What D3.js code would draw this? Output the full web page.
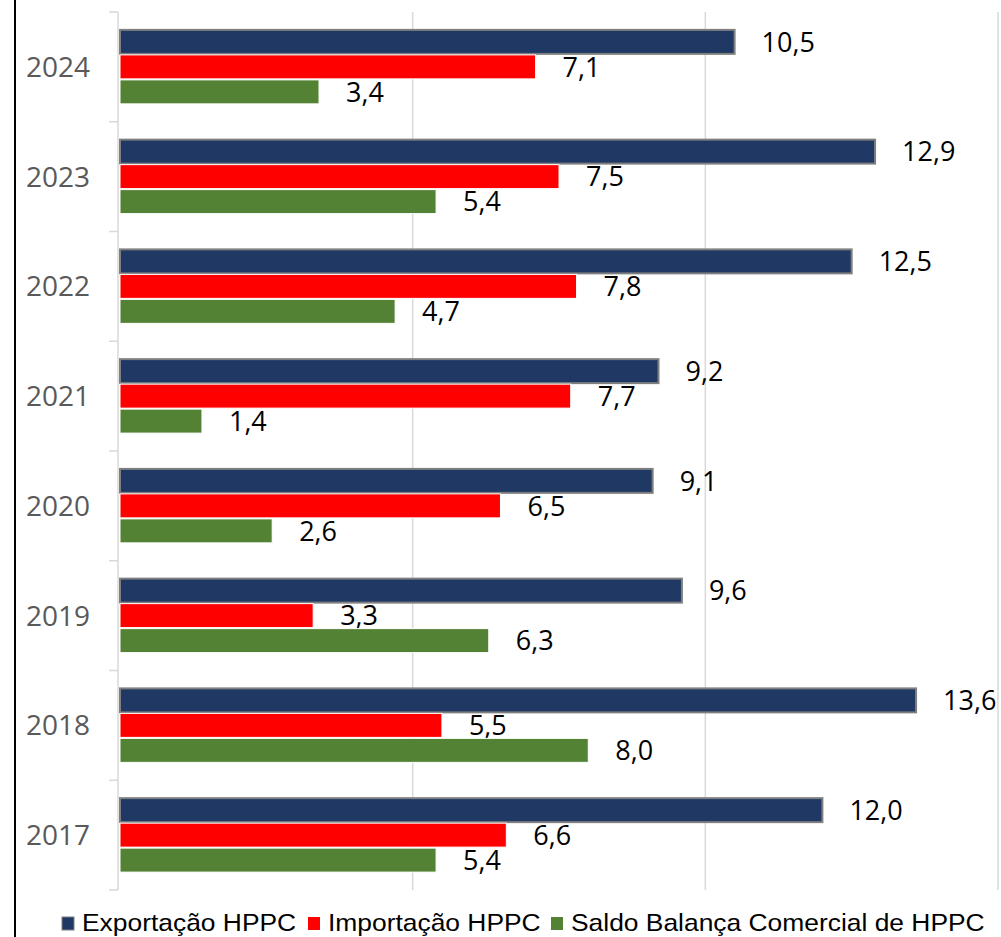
<!DOCTYPE html>
<html lang="pt">
<head>
<meta charset="utf-8">
<title>HPPC</title>
<script src="https://cdn.jsdelivr.net/npm/d3@7"></script>
<style>
  body { margin: 0; background: #fff; }
</style>
</head>
<body>
<script>
// data
var years = ["2024", "2023", "2022", "2021", "2020", "2019", "2018", "2017"];
var exportacao = [10.5, 12.9, 12.5, 9.2, 9.1, 9.6, 13.6, 12.0];
var importacao = [7.1, 7.5, 7.8, 7.7, 6.5, 3.3, 5.5, 6.6];
var saldo = [3.4, 5.4, 4.7, 1.4, 2.6, 6.3, 8.0, 5.4];
var seriesNames = ["Exportação HPPC", "Importação HPPC", "Saldo Balança Comercial de HPPC"];
var seriesColors = ["#203864", "#ff0000", "#548235"];
var xTicks = [0, 5, 10, 15];

var w = 1001, h = 937;
var svg = d3.select("body").append("svg")
  .attr("width", w).attr("height", h);

var x = d3.scaleLinear().domain([0, 15]).range([120, 998]);
var y = d3.scaleBand().domain(years).range([12, 890]).paddingInner(0.326).paddingOuter(0.163);
var yInner = d3.scaleBand().domain([0, 1, 2]).range([0, y.bandwidth()]).paddingInner(0.04);
var step = y.step();

var fmt = function(v) { return v.toFixed(1).replace(".", ","); };

// left border line
svg.append("line")
  .attr("x1", 15).attr("x2", 15).attr("y1", 0).attr("y2", h)
  .attr("stroke", "#000").attr("stroke-width", 2);

// vertical gridlines
svg.selectAll(".grid")
  .data(xTicks.slice(1))
  .enter().append("line")
  .attr("x1", function(d) { return x(d); })
  .attr("x2", function(d) { return x(d); })
  .attr("y1", 12).attr("y2", 890)
  .attr("stroke", "#d9d9d9").attr("stroke-width", 1.5);

// category axis
var yAxis = svg.append("g")
  .attr("transform", "translate(118,0)");
yAxis.append("line")
  .attr("x1", 0).attr("x2", 0).attr("y1", 12).attr("y2", 890)
  .attr("stroke", "#d9d9d9").attr("stroke-width", 1.5);
yAxis.selectAll(".tk")
  .data(d3.range(years.length + 1))
  .enter().append("line")
  .attr("x1", -9).attr("x2", 0)
  .attr("y1", function(i) { return 12 + i * step; })
  .attr("y2", function(i) { return 12 + i * step; })
  .attr("stroke", "#d9d9d9").attr("stroke-width", 1.5);
yAxis.selectAll(".lbl")
  .data(years)
  .enter().append("text")
  .attr("x", -28)
  .attr("y", function(d) { return y(d) + y.bandwidth() / 2; })
  .attr("dy", "0.36em")
  .attr("text-anchor", "end")
  .attr("fill", "#595959")
  .style("font-family", "'Open Sans', sans-serif")
  .style("font-size", "28px")
  .text(function(d) { return d; });

// bars
var allSeries = [exportacao, importacao, saldo];
allSeries.forEach(function(vals, s) {
  var g = svg.append("g");
  g.selectAll("rect")
    .data(vals)
    .enter().append("rect")
    .attr("x", x(0))
    .attr("y", function(d, i) { return y(years[i]) + yInner(s); })
    .attr("width", function(d) { return x(d) - x(0); })
    .attr("height", yInner.bandwidth())
    .attr("fill", seriesColors[s])
    .attr("stroke", s === 0 ? "#7f7f7f" : "#fff")
    .attr("stroke-width", s === 0 ? 2 : 1);
  g.selectAll("text")
    .data(vals)
    .enter().append("text")
    .attr("x", function(d) { return x(d) + 27; })
    .attr("y", function(d, i) { return y(years[i]) + yInner(s) + yInner.bandwidth() / 2; })
    .attr("dy", "0.36em")
    .attr("fill", "#000")
    .style("font-family", "'Open Sans', sans-serif")
    .style("font-size", "27px")
    .text(function(d) { return fmt(d); });
});

// legend
var legX = [62, 308, 551];
var leg = svg.selectAll(".leg")
  .data(seriesNames)
  .enter().append("g")
  .attr("transform", function(d, i) { return "translate(" + legX[i] + ",917)"; });
leg.append("rect")
  .attr("width", 12).attr("height", 13)
  .attr("fill", function(d, i) { return seriesColors[i]; })
  .attr("stroke", function(d, i) { return i === 0 ? "#7f7f7f" : "none"; })
  .attr("stroke-width", 1);
leg.append("text")
  .attr("transform", "translate(20,14) scale(1.1,1)")
  .attr("fill", "#000")
  .style("font-family", "'Liberation Sans', Arial, sans-serif")
  .style("font-size", "24px")
  .text(function(d) { return d; });
</script>
</body>
</html>
